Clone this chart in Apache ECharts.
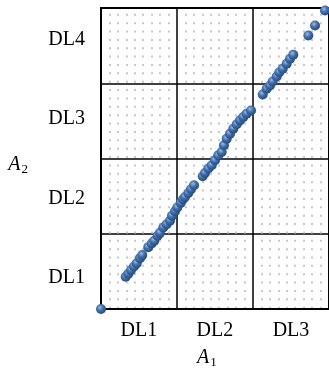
<!DOCTYPE html>
<html><head><meta charset="utf-8">
<script src="https://cdn.jsdelivr.net/npm/echarts@6/dist/echarts.min.js"></script>
<style>html,body{margin:0;padding:0;background:#fff}#c{width:329px;height:374px}</style>
</head><body><div id="c"></div>
<script>
const xCategories = ['DL1', 'DL2', 'DL3'];
const yCategories = ['DL1', 'DL2', 'DL3', 'DL4'];
const a1Values = [0, 0.325, 0.36, 0.395, 0.434, 0.47, 0.513, 0.543, 0.622, 0.667, 0.701, 0.746, 0.776, 0.82, 0.864, 0.908, 0.934, 0.974, 1.004, 1.049, 1.079, 1.105, 1.149, 1.184, 1.224, 1.338, 1.368, 1.412, 1.457, 1.5, 1.543, 1.588, 1.618, 1.654, 1.697, 1.741, 1.786, 1.829, 1.872, 1.917, 1.974, 2.128, 2.18, 2.224, 2.259, 2.312, 2.346, 2.391, 2.443, 2.487, 2.53, 2.728, 2.816, 2.947];
const a2Values = [0, 0.428, 0.47, 0.517, 0.564, 0.606, 0.676, 0.716, 0.822, 0.871, 0.906, 0.975, 1.012, 1.084, 1.127, 1.174, 1.24, 1.3, 1.349, 1.41, 1.459, 1.489, 1.542, 1.592, 1.645, 1.764, 1.808, 1.866, 1.91, 1.976, 2.042, 2.086, 2.175, 2.264, 2.33, 2.397, 2.454, 2.507, 2.55, 2.596, 2.639, 2.851, 2.927, 2.971, 3.024, 3.09, 3.147, 3.192, 3.259, 3.325, 3.378, 3.634, 3.767, 3.966];
const xTitle = 'A';
const xTitleSub = '1';
const yTitle = 'A';
const yTitleSub = '2';

const serif = 'Liberation Serif';
const richTitle = {
  a: { fontFamily: serif, fontStyle: 'italic', fontSize: 20, color: '#000' },
  b: { fontFamily: serif, fontSize: 13, color: '#000', padding: [9, 0, 0, 1] }
};
const chart = echarts.init(document.getElementById('c'), null, { renderer: 'canvas' });
chart.setOption({
  animation: false,
  backgroundColor: '#fff',
  grid: [
    { left: 101, top: 8, width: 228, height: 301, show: true, borderColor: '#000', borderWidth: 2, backgroundColor: '#fff' },
    { left: 100.9, top: -6.4, width: 237, height: 324, show: false }
  ],
  xAxis: [
    {
      type: 'value', gridIndex: 0, min: 0, max: 3, interval: 1,
      axisLine: { show: true, lineStyle: { color: '#000', width: 2 } },
      axisTick: { show: false }, axisLabel: { show: false },
      splitLine: { show: true, lineStyle: { color: '#000', width: 1.5 } },
      minorTick: { show: false, splitNumber: 9 },
      minorSplitLine: { show: true, lineStyle: { color: '#c8c8c8', width: 2, type: [2, 6.37], dashOffset: 2.6 } }
    },
    {
      type: 'category', gridIndex: 1, data: xCategories,
      axisLine: { show: false }, axisTick: { show: false }, splitLine: { show: false },
      axisLabel: { fontFamily: serif, fontSize: 20, color: '#000', margin: 3 },
      name: '{a|' + xTitle + '}{b|' + xTitleSub + '}',
      nameLocation: 'middle', nameGap: 29,
      nameTextStyle: { rich: richTitle, padding: [0, 16, 0, 0] }
    }
  ],
  yAxis: [
    {
      type: 'value', gridIndex: 0, min: 0, max: 4, interval: 1,
      axisLine: { show: true, lineStyle: { color: '#000', width: 2 } },
      axisTick: { show: false }, axisLabel: { show: false },
      splitLine: { show: true, lineStyle: { color: '#000', width: 1.5 } }
    },
    {
      type: 'category', gridIndex: 1, data: yCategories,
      axisLine: { show: false }, axisTick: { show: false }, splitLine: { show: false },
      axisLabel: { fontFamily: serif, fontSize: 20, color: '#000', margin: 16 },
      name: '{a|' + yTitle + '}{b|' + yTitleSub + '}',
      nameLocation: 'middle', nameGap: 73, nameRotate: 0,
      nameTextStyle: { rich: richTitle, padding: [12, 0, 0, 0] }
    }
  ],
  series: [{
    type: 'scatter', xAxisIndex: 0, yAxisIndex: 0, clip: false,
    symbol: 'circle', symbolSize: 10,
    data: a1Values.map((v, i) => [v, a2Values[i]]),
    itemStyle: {
      opacity: 1,
      color: new echarts.graphic.RadialGradient(0.4, 0.35, 0.7, [
        { offset: 0, color: '#9dbbe0' },
        { offset: 0.45, color: '#3f6fae' },
        { offset: 1, color: '#1f4678' }
      ])
    }
  }]
});
</script></body></html>
